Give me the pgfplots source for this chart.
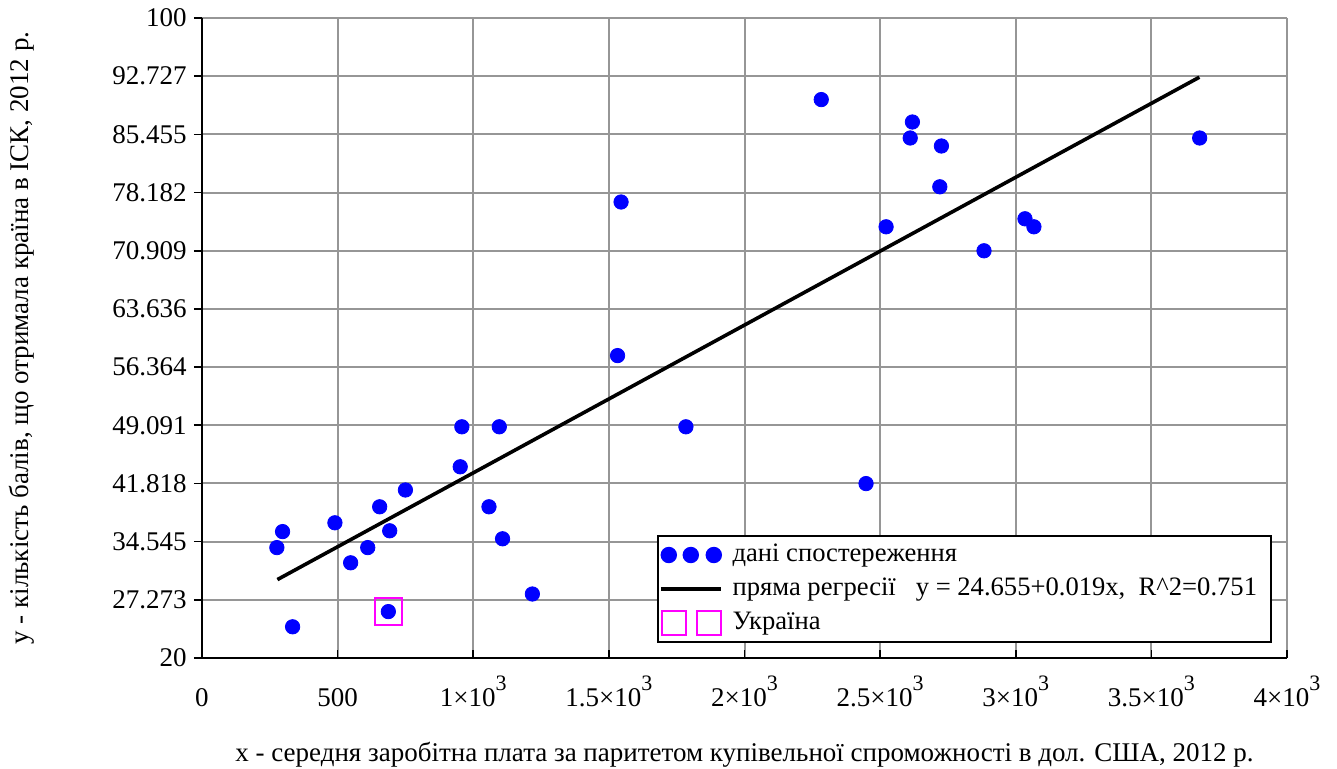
\documentclass[border=0pt]{standalone}
\usepackage{fontspec}
\setmainfont{Liberation Serif}
\usepackage{pgfplots}
\pgfplotsset{compat=1.18}
\definecolor{gridgray}{RGB}{150,150,150}
\definecolor{mag}{RGB}{255,0,255}
\definecolor{dotblue}{RGB}{0,0,255}
\newcommand\sx[1]{×10\raisebox{0.6em}{\fontsize{11pt}{12pt}\selectfont #1}}

\begin{document}
\fontsize{13.5pt}{16pt}\selectfont
\begin{tikzpicture}
\begin{axis}[
    name=ax,
    scale only axis,
    width=542.5pt, height=320pt,
    xmin=0, xmax=4000,
    ymin=20, ymax=100,
    axis lines=left,
    axis line style={-, black, line width=1pt},
    xtick={0,500,1000,1500,2000,2500,3000,3500,4000},
    xticklabels={0,500,1\sx{3},1.5\sx{3},2\sx{3},2.5\sx{3},3\sx{3},3.5\sx{3},4\sx{3}},
    xticklabel style={anchor=base, yshift=-24.5pt},
    ytick={20,27.2727,34.5455,41.8182,49.0909,56.3636,63.6364,70.9091,78.1818,85.4545,92.7273,100},
    yticklabels={20,27.273,34.545,41.818,49.091,56.364,63.636,70.909,78.182,85.455,92.727,100},
    yticklabel style={xshift=1pt},
    xtick align=inside, ytick align=outside,
    major tick length=4pt,
    tick style={black, line width=0.8pt},
    grid=major,
    grid style={gridgray, line width=1pt},
    xlabel={х - середня заробітна плата за паритетом купівельної спроможності в дол. США, 2012 р.},
    ylabel={у - кількість балів, що отримала країна в ІСК, 2012 р.},
    xlabel style={at={(rel axis cs:0.5,-0.1516)}, anchor=center},
    ylabel style={at={(rel axis cs:-0.1659,0.5)}, anchor=center},
    legend cell align=left,
    legend style={at={(rel axis cs:0.9862,0.0234)}, anchor=south east,
        draw=black, line width=1pt, fill=white,
        font=\fontsize{13.3pt}{16pt}\selectfont,
        inner xsep=0pt, inner ysep=1pt, row sep=0pt, column sep=5pt,
        nodes={inner xsep=0pt, inner ysep=0pt, minimum height=17pt}},
]
% дані спостереження
\addplot[only marks, mark=*, mark size=3.6pt, dotblue, mark options={draw=dotblue, fill=dotblue},
    legend image code/.code={
        \path[draw=none, fill=none] (0pt,-7pt) rectangle (32pt,7pt);
        \fill[dotblue] (5.5pt,0) circle (3.6pt);
        \fill[dotblue] (16.5pt,0) circle (3.6pt);
        \fill[dotblue] (28pt,0) circle (3.6pt);
    }] coordinates {
    (276,33.8) (297,35.8) (334,23.9) (490,36.9) (548,31.9) (611,33.8)
    (655,38.9) (692,35.9) (687,25.8) (750,41.0) (952,43.9) (958,48.9)
    (1058,38.9) (1096,48.9) (1108,34.9) (1218,28.0)
    (1532,57.8) (1545,77.0) (1784,48.9) (2448,41.8) (2522,73.9)
    (2283,89.8) (2611,85.0) (2619,87.0) (2720,78.9) (2726,84.0)
    (2883,70.9) (3034,74.9) (3067,73.9) (3678,85.0)
};
\addlegendentry{дані спостереження}
% пряма регресії
\addplot[black, line width=1.8pt,
    legend image code/.code={
        \path[draw=none, fill=none] (0pt,-7pt) rectangle (32pt,7pt);
        \draw[black, line width=1.8pt] (1.5pt,0) -- (31.5pt,0);
    }]
    coordinates {(278,29.8) (3677,92.6)};
\addlegendentry{пряма регресії\ \ \ y = 24.655+0.019x,\ \ R\textasciicircum 2=0.751\hspace*{7pt}}
% Україна
\addplot[only marks, mark=square, mark size=6.75pt, mag, mark options={line width=1pt},
    legend image code/.code={
        \path[draw=none, fill=none] (0pt,-7pt) rectangle (32pt,7pt);
        \draw[mag, line width=1pt] (2pt,-6pt) rectangle (14pt,6pt);
        \draw[mag, line width=1pt] (19.5pt,-6pt) rectangle (31.5pt,6pt);
    }] coordinates {(687,25.8)};
\addlegendentry{Україна}
\end{axis}
\pgfresetboundingbox
\path[use as bounding box] ([xshift=-101pt,yshift=-55.5pt]ax.south west) rectangle ([xshift=25pt,yshift=9pt]ax.north east);
\end{tikzpicture}
\end{document}
